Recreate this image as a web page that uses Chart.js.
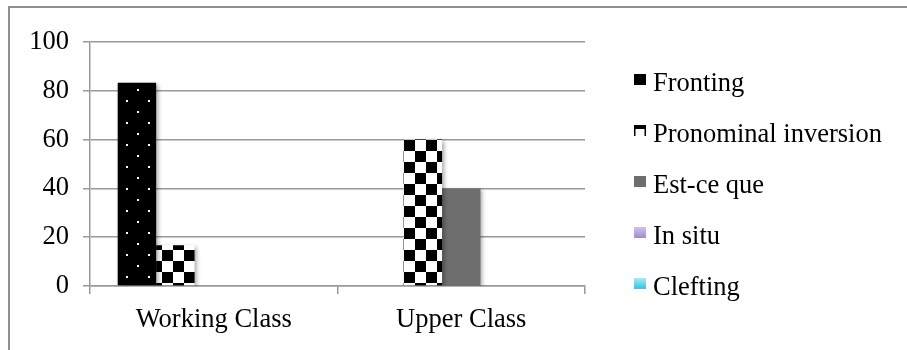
<!DOCTYPE html>
<html lang="en">
<head>
    <meta charset="UTF-8">
    <title>Question forms by class</title>
    <script src="https://cdn.jsdelivr.net/npm/chart.js"></script>
    <style>
        html, body { margin: 0; padding: 0; background: #fff; }
        #wrap { position: relative; width: 907px; height: 350px; overflow: hidden; }
        #frame { position: absolute; left: 8px; top: 6px; width: 1000px; height: 1000px;
                 border-top: 2px solid #8e8e8e; border-left: 2px solid #8e8e8e; }
        canvas { position: absolute; left: 0; top: 0; }
    </style>
</head>
<body>
<div id="wrap">
    <div id="frame"></div>
    <canvas id="chart" width="907" height="350"></canvas>
</div>

<script>
    // Data
    const categories = ['Working Class', 'Upper Class'];
    const seriesNames = ['Fronting', 'Pronominal inversion', 'Est-ce que', 'In situ', 'Clefting'];
    const fronting = [83.3, 0];
    const pronominalInversion = [16.7, 60];
    const estCeQue = [0, 40];
    const inSitu = [0, 0];
    const clefting = [0, 0];

    const FONT = '"Liberation Serif", "Times New Roman", serif';
    const FONT_SIZE = 26.5;
    const ctx = document.getElementById('chart').getContext('2d');

    // black with white dots
    function dotPattern() {
        const c = document.createElement('canvas');
        c.width = 22; c.height = 22;
        const g = c.getContext('2d');
        g.fillStyle = '#000';
        g.fillRect(0, 0, 22, 22);
        g.fillStyle = '#fff';
        g.fillRect(5, 1, 2, 2);
        g.fillRect(16, 12, 2, 2);
        return ctx.createPattern(c, 'repeat');
    }

    // checkerboard
    function checkerPattern() {
        const c = document.createElement('canvas');
        c.width = 22; c.height = 22;
        const g = c.getContext('2d');
        g.fillStyle = '#fff';
        g.fillRect(0, 0, 22, 22);
        g.fillStyle = '#000';
        g.fillRect(0, 0, 11, 11);
        g.fillRect(11, 11, 11, 11);
        const p = ctx.createPattern(c, 'repeat');
        if (p.setTransform) p.setTransform(new DOMMatrix().translate(8, 8));
        return p;
    }

    const dots = dotPattern();
    const checker = checkerPattern();

    function grad(top, bottom, y0, y1) {
        const g = ctx.createLinearGradient(0, y0, 0, y1);
        g.addColorStop(0, top);
        g.addColorStop(1, bottom);
        return g;
    }

    const legendTop = 74, legendStep = 51;
    const legendFills = [
        '#000',
        null, // drawn as a piece of the checkerboard
        '#6e6e6e',
        grad('#d2c2ea', '#a28acb', legendTop + 3 * legendStep, legendTop + 3 * legendStep + 11),
        grad('#a6ecf8', '#3bbfdd', legendTop + 4 * legendStep, legendTop + 4 * legendStep + 11)
    ];

    const barShadow = {
        id: 'barShadow',
        beforeDatasetsDraw(chart) {
            const c = chart.ctx;
            c.save();
            c.shadowColor = 'rgba(0,0,0,0.35)';
            c.shadowBlur = 4;
            c.shadowOffsetX = 2;
            c.shadowOffsetY = 2;
        },
        afterDatasetsDraw(chart) {
            chart.ctx.restore();
        }
    };

    const sideLegend = {
        id: 'sideLegend',
        afterDraw(chart) {
            const c = chart.ctx;
            c.save();
            c.font = FONT_SIZE + 'px ' + FONT;
            c.textBaseline = 'alphabetic';
            c.textAlign = 'left';
            chart.data.datasets.forEach((ds, i) => {
                const y = legendTop + i * legendStep;
                if (legendFills[i]) {
                    c.fillStyle = legendFills[i];
                    c.fillRect(634, y, 12, 11);
                } else {
                    c.fillStyle = '#fff';
                    c.fillRect(634, y, 12, 11);
                    c.fillStyle = '#000';
                    c.fillRect(634, y, 12, 4);
                    c.fillRect(634, y, 1.5, 11);
                    c.fillRect(644.5, y, 1.5, 11);
                }
                c.fillStyle = '#000';
                c.fillText(ds.label, 653, y + 17);
            });
            c.restore();
        }
    };

    new Chart(ctx, {
        type: 'bar',
        data: {
            labels: categories,
            datasets: [
                { label: seriesNames[0], data: fronting, backgroundColor: dots },
                { label: seriesNames[1], data: pronominalInversion, backgroundColor: checker },
                { label: seriesNames[2], data: estCeQue, backgroundColor: '#6e6e6e' },
                { label: seriesNames[3], data: inSitu, backgroundColor: '#b39ddb' },
                { label: seriesNames[4], data: clefting, backgroundColor: '#4cc6e2' }
            ]
        },
        options: {
            responsive: false,
            animation: false,
            devicePixelRatio: 1,
            barPercentage: 1,
            categoryPercentage: 0.776,
            layout: { padding: { left: 10, right: 322, top: 42, bottom: 0 } },
            plugins: {
                legend: { display: false },
                tooltip: { enabled: false }
            },
            scales: {
                x: {
                    afterFit: s => { s.height = 64; },
                    grid: { drawOnChartArea: false, drawTicks: true, tickLength: 8, color: '#999', lineWidth: 1.5 },
                    border: { color: '#999', width: 1.5 },
                    ticks: { color: '#000', padding: 10, font: { family: FONT, size: FONT_SIZE } }
                },
                y: {
                    min: 0,
                    max: 100,
                    afterFit: s => { s.width = 80; },
                    grid: { color: '#999', lineWidth: 1.5, tickLength: 7 },
                    border: { color: '#999', width: 1.5 },
                    ticks: { stepSize: 20, color: '#000', padding: 14, font: { family: FONT, size: FONT_SIZE } }
                }
            }
        },
        plugins: [barShadow, sideLegend]
    });
</script>
</body>
</html>
